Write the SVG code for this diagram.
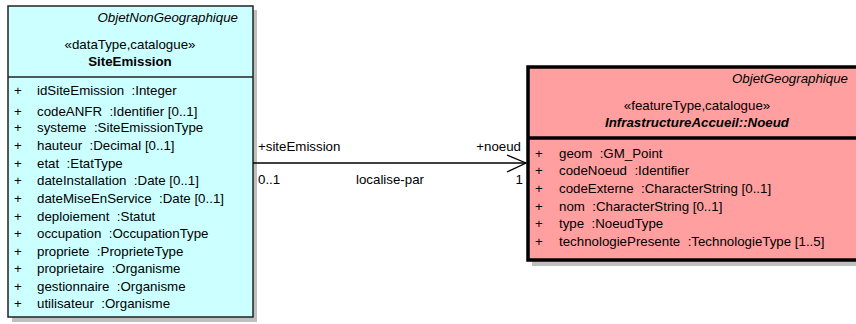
<svg xmlns="http://www.w3.org/2000/svg" width="856" height="324" viewBox="0 0 856 324">
<style>
text{font-family:"Liberation Sans",Arial,sans-serif;font-size:13.3px;fill:#000;white-space:pre}
.it{font-style:italic}
.b{font-weight:bold}
.c{text-anchor:middle}
.r{text-anchor:end}
.shadow{fill:#bfbfbf}
.dt{fill:#ccffff;stroke:#222;stroke-width:1.5}
.ft{fill:#ff9f9f;stroke:#000;stroke-width:3.5}
.conn{fill:none;stroke:#000;stroke-width:1.3}
</style>
<rect width="856" height="324" fill="#fff"/>
<g id="SiteEmission">
<rect class="shadow" x="12" y="10" width="245" height="312"/>
<rect class="dt" x="8" y="6" width="245" height="311"/>
<line x1="8" y1="77" x2="253" y2="77" stroke="#222" stroke-width="1.5"/>
<text class="it r" x="238" y="22">ObjetNonGeographique</text>
<text class="c" x="130" y="49">«dataType,catalogue»</text>
<text class="b c" x="130" y="66">SiteEmission</text>
<g xml:space="preserve">
<text x="14" y="95">+</text><text x="37" y="95">idSiteEmission  :Integer</text>
<text x="14" y="116">+</text><text x="37" y="116">codeANFR  :Identifier [0..1]</text>
<text x="14" y="132">+</text><text x="37" y="132">systeme  :SiteEmissionType</text>
<text x="14" y="150">+</text><text x="37" y="150">hauteur  :Decimal [0..1]</text>
<text x="14" y="168">+</text><text x="37" y="168">etat  :EtatType</text>
<text x="14" y="185">+</text><text x="37" y="185">dateInstallation  :Date [0..1]</text>
<text x="14" y="203">+</text><text x="37" y="203">dateMiseEnService  :Date [0..1]</text>
<text x="14" y="221">+</text><text x="37" y="221">deploiement  :Statut</text>
<text x="14" y="238">+</text><text x="37" y="238">occupation  :OccupationType</text>
<text x="14" y="256">+</text><text x="37" y="256">propriete  :ProprieteType</text>
<text x="14" y="273">+</text><text x="37" y="273">proprietaire  :Organisme</text>
<text x="14" y="291">+</text><text x="37" y="291">gestionnaire  :Organisme</text>
<text x="14" y="308">+</text><text x="37" y="308">utilisateur  :Organisme</text>
</g>
</g>
<g id="Noeud">
<rect class="shadow" x="532" y="71" width="340" height="195"/>
<rect class="ft" x="528" y="67" width="340" height="193"/>
<line x1="528" y1="138" x2="868" y2="138" stroke="#000" stroke-width="3.5"/>
<text class="it r" x="848" y="83">ObjetGeographique</text>
<text class="c" x="697" y="110">«featureType,catalogue»</text>
<text class="b it c" x="697" y="127">InfrastructureAccueil::Noeud</text>
<g xml:space="preserve">
<text x="535" y="158">+</text><text x="559" y="158">geom  :GM_Point</text>
<text x="535" y="175">+</text><text x="559" y="175">codeNoeud  :Identifier</text>
<text x="535" y="193">+</text><text x="559" y="193">codeExterne  :CharacterString [0..1]</text>
<text x="535" y="211">+</text><text x="559" y="211">nom  :CharacterString [0..1]</text>
<text x="535" y="228">+</text><text x="559" y="228">type  :NoeudType</text>
<text x="535" y="246">+</text><text x="559" y="246">technologiePresente  :TechnologieType [1..5]</text>
</g>
</g>
<g id="connectors">
<line class="conn" x1="253" y1="163" x2="526" y2="163"/>
<polyline class="conn" points="507,155 526,163 507,172"/>
<text x="258" y="151">+siteEmission</text>
<text class="r" x="521" y="151">+noeud</text>
<text x="258" y="184">0..1</text>
<text x="356" y="184">localise-par</text>
<text class="r" x="523" y="184">1</text>
</g>
</svg>
